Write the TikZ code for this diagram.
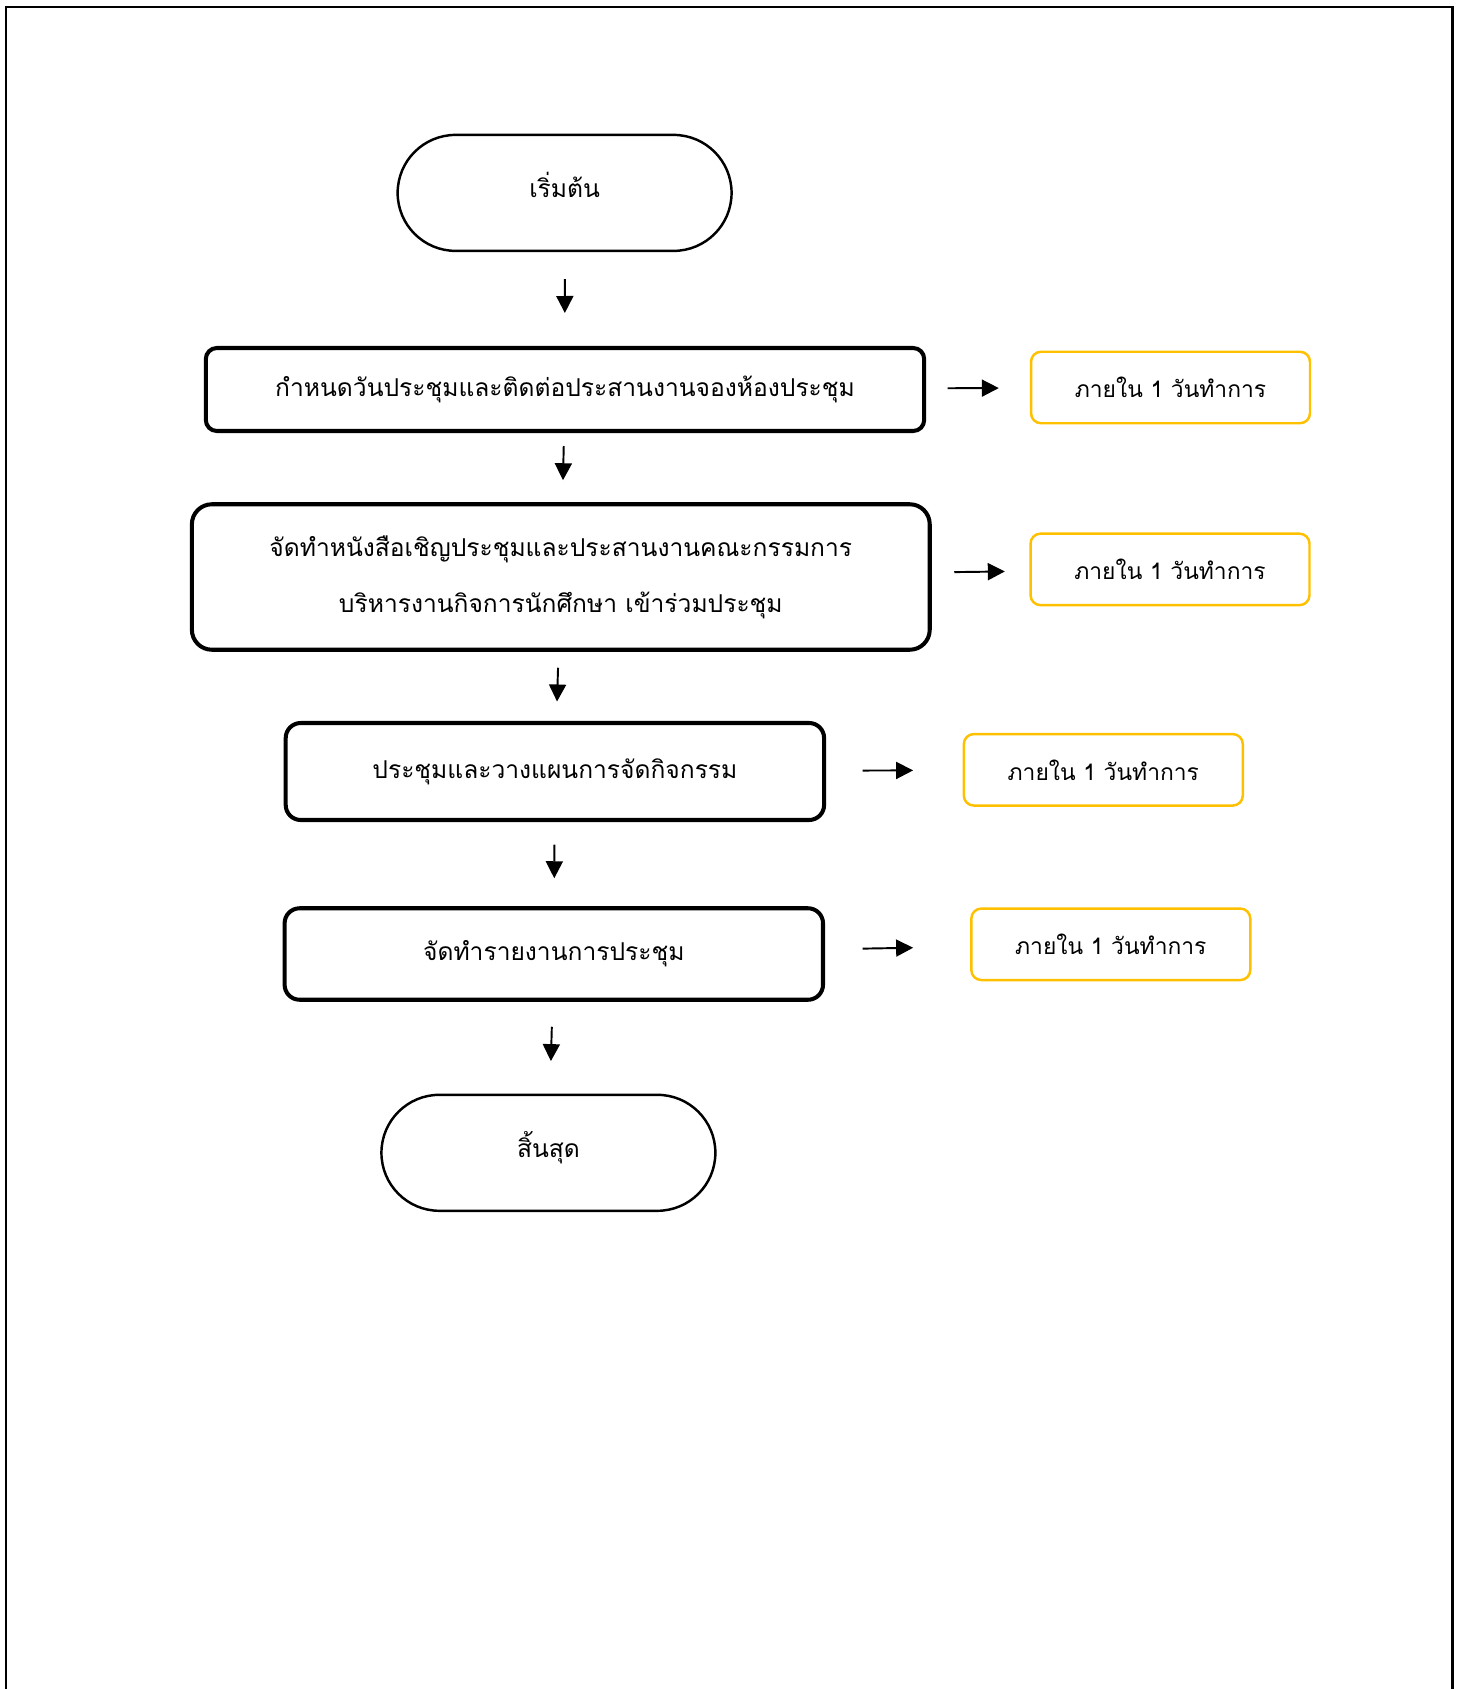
\documentclass[tikz,border=0pt]{standalone}
\usepackage{fontspec}
\setmainfont[Script=Thai]{Loma}
\usetikzlibrary{arrows.meta,shapes.misc}
\definecolor{tgold}{HTML}{FFC000}

\begin{document}
\begin{tikzpicture}[x=0.02cm, y=-0.02cm,
    every node/.style={font=\fontsize{14}{32}\selectfont, align=center, inner sep=0pt},
    term/.style={draw, line width=1.4pt, rounded rectangle, minimum width=6.68cm, minimum height=2.32cm,
        text height=0.34cm, text depth=0.16cm},
    stepbox/.style={draw, line width=2.3pt, rounded corners=0.22cm},
    timebox/.style={draw=tgold, line width=1.4pt, rounded corners=0.2cm, minimum width=5.58cm, minimum height=1.43cm,
        font=\fontsize{13}{26}\selectfont},
    arr/.style={-{Triangle[length=0.34cm,width=0.34cm]}, line width=1.1pt}]
\useasboundingbox (0,0) rectangle (1462,1689);
% Draw page frame
\draw[line width=1.7pt] (6,1689) -- (6,7) -- (1452,7) -- (1452,1689);
% Draw steps
\node[term] (start) at (564.6,192.9) {เริ่มต้น};
\node[stepbox, minimum width=14.37cm, minimum height=1.66cm] (book) at (565,389.5)
    {กำหนดวันประชุมและติดต่อประสานงานจองห้องประชุม};
\node[stepbox, rounded corners=0.4cm, minimum width=14.76cm, minimum height=2.91cm] (invite) at (560.8,577)
    {จัดทำหนังสือเชิญประชุมและประสานงานคณะกรรมการ\\บริหารงานกิจการนักศึกษา เข้าร่วมประชุม};
\node[stepbox, rounded corners=0.3cm, minimum width=10.77cm, minimum height=1.94cm] (meet) at (554.9,771.5)
    {ประชุมและวางแผนการจัดกิจกรรม};
\node[stepbox, rounded corners=0.3cm, minimum width=10.77cm, minimum height=1.83cm] (report) at (553.8,954)
    {จัดทำรายงานการประชุม};
\node[term] (stop) at (548.4,1152.8) {สิ้นสุด};
% Draw time limits
\node[timebox] (time1) at (1170.5,387.5) {ภายใน 1 วันทำการ};
\node[timebox] (time2) at (1170,569.4) {ภายใน 1 วันทำการ};
\node[timebox] (time3) at (1103.3,769.8) {ภายใน 1 วันทำการ};
\node[timebox] (time4) at (1110.8,944.3) {ภายใน 1 วันทำการ};
% Draw arrows down
\draw[arr, shorten <=0.54cm, shorten >=0.66cm] (start) -- (book);
\draw[arr, shorten <=0.26cm, shorten >=0.44cm] (book) -- (invite);
\draw[arr, shorten <=0.32cm, shorten >=0.39cm] (invite) -- (meet);
\draw[arr, shorten <=0.45cm, shorten >=0.56cm] (meet) -- (report);
\draw[arr, shorten <=0.50cm, shorten >=0.65cm] (report) -- (stop);
% Draw arrows right
\foreach \a/\b/\s/\e in {book/time1/0.43/0.62, invite/time2/0.45/0.49,
                         meet/time3/0.73/0.99, report/time4/0.75/1.14}
    \draw[arr, shorten <=\s cm, shorten >=\e cm] (\a) -- (\b);
\end{tikzpicture}
\end{document}
